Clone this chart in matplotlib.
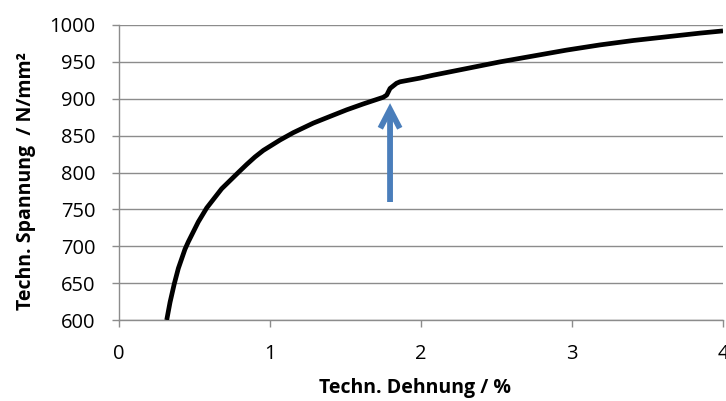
import matplotlib
matplotlib.use("Agg")
import matplotlib.pyplot as plt

plt.rcParams['font.family'] = ['Open Sans', 'DejaVu Sans']

strain = [0.316, 0.338, 0.366, 0.393, 0.437, 0.459, 0.525, 0.581, 0.68, 0.79,
          0.846, 0.9, 0.956, 1.066, 1.154, 1.287, 1.397, 1.508, 1.618, 1.75,
          1.773, 1.795, 1.838, 1.861, 1.993, 2.082, 2.303, 2.523, 2.744, 2.965,
          3.185, 3.406, 3.627, 3.848, 4.0]
stress = [600, 624, 649, 670, 696, 706, 733, 752, 778, 800,
          811, 821, 830, 844, 854, 867, 876, 885, 893, 902,
          905, 914, 921, 923, 928, 932, 941, 950, 958, 966,
          973, 979, 984, 989, 992]

arrow_x = 1.795
arrow_y_start = 760
arrow_y_end = 894

xticks = [0, 1, 2, 3, 4]
yticks = [600, 650, 700, 750, 800, 850, 900, 950, 1000]

fig = plt.figure(figsize=(7.26, 4.01), dpi=100)
ax = fig.add_axes([119/726, (401-320)/401, 604/726, 295/401])

grid_c = '#8c8c8c'
for yv in yticks:
    ax.axhline(yv, color=grid_c, lw=1.0, zorder=1)

ax.plot(strain, stress, color='black', lw=3.4, solid_joinstyle='round',
        solid_capstyle='butt', zorder=3)

ax.annotate('', xy=(arrow_x, arrow_y_end), xytext=(arrow_x, arrow_y_start),
            arrowprops=dict(arrowstyle='->,head_length=1.35,head_width=0.7', color='#4A7EBB', lw=4.2,
                            shrinkA=0, shrinkB=0, joinstyle='miter', capstyle='butt'),
            zorder=4)

ax.set_xlim(0, 4)
ax.set_ylim(600, 1000)
ax.set_xticks(xticks)
ax.set_yticks(yticks)
ax.set_xticklabels([str(v) for v in xticks])
ax.set_yticklabels([str(v) for v in yticks])

for s in ['top', 'right']:
    ax.spines[s].set_visible(False)
for s in ['left', 'bottom']:
    ax.spines[s].set_color(grid_c)
    ax.spines[s].set_linewidth(1.0)
    ax.spines[s].set_zorder(2)

ax.tick_params(axis='both', direction='out', length=5, width=1.0, color=grid_c,
               labelsize=14.5, labelcolor='black')
ax.tick_params(axis='x', pad=12)
ax.tick_params(axis='y', pad=12)

ax.set_xlabel('Techn. Dehnung / %', fontsize=14, fontweight='bold')
ax.xaxis.set_label_coords(0.49, -0.195)
ax.set_ylabel('Techn. Spannung  / N/mm²', fontsize=14, fontweight='bold')
ax.yaxis.set_label_coords(-0.138, 0.47)

fig.savefig('out.png', dpi=100)
